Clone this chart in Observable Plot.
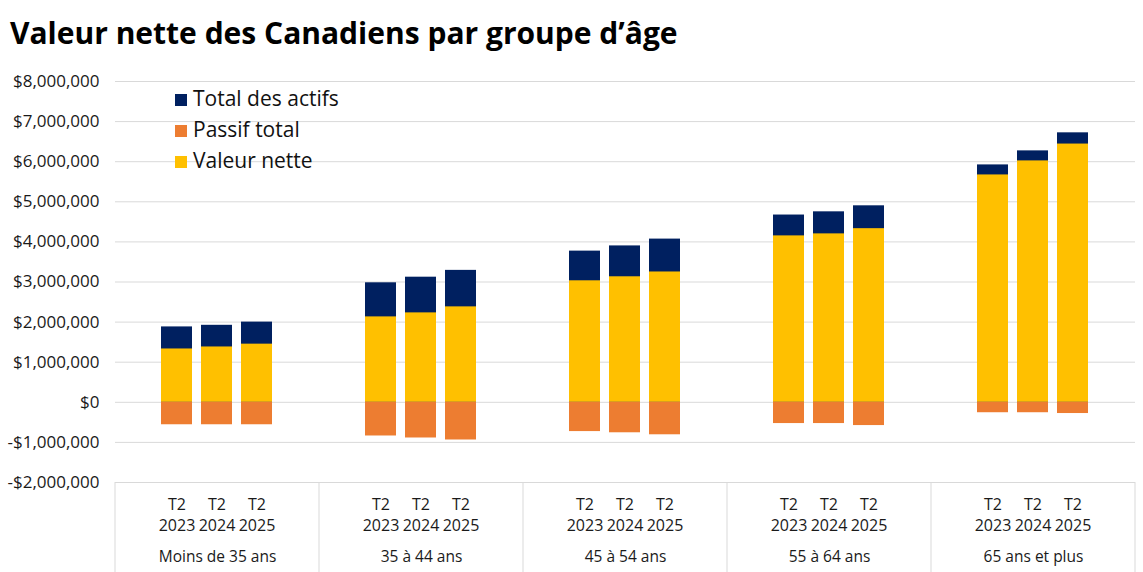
<!DOCTYPE html>
<html>
<head>
<meta charset="utf-8">
<script src="https://cdn.jsdelivr.net/npm/d3@7"></script>
<script src="https://cdn.jsdelivr.net/npm/@observablehq/plot@0.6"></script>
<style>
  html, body { margin: 0; padding: 0; background: #fff; }
  body { width: 1143px; height: 572px; position: relative; overflow: hidden; font-family: "Open Sans", Roboto, sans-serif; color: #1a1a1a; }
  #title { position: absolute; left: 10px; top: 16px; font-size: 30px; font-weight: 700; line-height: 34px; white-space: nowrap; color: #000; letter-spacing: 0px; }
  #chart { position: absolute; left: 0; top: 60px; }
  #legend { position: absolute; left: 175px; top: 83px; font-size: 21px; line-height: 31px; color: #111; }
  #legend .sw { display: inline-block; width: 12px; height: 12px; margin-right: 6px; vertical-align: baseline; }
</style>
</head>
<body>
<div id="title">Valeur nette des Canadiens par groupe d’âge</div>
<div id="chart"></div>
<div id="legend"></div>
<script>
const groups = ["Moins de 35 ans", "35 à 44 ans", "45 à 54 ans", "55 à 64 ans", "65 ans et plus"];
const periods = ["T2 2023", "T2 2024", "T2 2025"];
// values in millions of dollars, per group, per period
const totalAssets = [[1.88, 1.92, 2.00], [2.98, 3.12, 3.29], [3.77, 3.90, 4.07], [4.67, 4.75, 4.90], [5.92, 6.27, 6.72]];
const totalLiabilities = [[0.56, 0.56, 0.56], [0.84, 0.89, 0.94], [0.73, 0.76, 0.81], [0.53, 0.53, 0.58], [0.26, 0.26, 0.28]];
const netWorth = [[1.33, 1.38, 1.45], [2.13, 2.23, 2.38], [3.03, 3.13, 3.25], [4.15, 4.20, 4.33], [5.67, 6.02, 6.44]];
const seriesNames = ["Total des actifs", "Passif total", "Valeur nette"];
const seriesColors = ["#002060", "#ED7D31", "#FFC000"];
const yTicks = [-2e6, -1e6, 0, 1e6, 2e6, 3e6, 4e6, 5e6, 6e6, 7e6, 8e6];

const rows = [];
groups.forEach((g, i) => periods.forEach((p, j) => {
  rows.push({group: g, period: p, assets: totalAssets[i][j] * 1e6, liab: -totalLiabilities[i][j] * 1e6, net: netWorth[i][j] * 1e6});
}));

const fmt = v => (v < 0 ? "-" : "") + "$" + d3.format(",")(Math.abs(v));

const plot = Plot.plot({
  width: 1143,
  height: 512,
  marginLeft: 113,
  marginRight: 6,
  marginTop: 21,
  marginBottom: 90,
  style: {fontFamily: "'Open Sans', Roboto, sans-serif", fontSize: "16px", color: "#1a1a1a", background: "transparent"},
  fx: {domain: groups, padding: 0, label: null},
  x: {domain: periods, paddingInner: 0.22, paddingOuter: 1.11, label: null},
  y: {domain: [-2e6, 8e6], label: null},
  marks: [
    Plot.gridY(yTicks, {stroke: "#d9d9d9", strokeOpacity: 1}),
    Plot.axisY(yTicks, {tickFormat: fmt, tickSize: 0, tickPadding: 16, fontSize: 17, label: null}),
    Plot.barY(rows, {fx: "group", x: "period", y: "assets", fill: seriesColors[0]}),
    Plot.barY(rows, {fx: "group", x: "period", y: "net", fill: seriesColors[2]}),
    Plot.barY(rows, {fx: "group", x: "period", y: "liab", fill: seriesColors[1]}),
    Plot.axisX({tickSize: 0, tickPadding: 13, fontSize: 16, lineHeight: 1.3, tickFormat: d => d.replace(" ", "\n"), label: null}),
    Plot.axisFx({anchor: "bottom", tickSize: 0, tickPadding: 68, fontSize: 15.5, label: null})
  ]
});
document.getElementById("chart").appendChild(plot);

// category box separators, positioned from the plot's own scales
const fx = plot.scale("fx");
const y = plot.scale("y");
const svg = d3.select(plot);
const bounds = groups.map(g => fx.apply(g)).concat([fx.apply(groups[groups.length - 1]) + fx.bandwidth]);
svg.append("g").selectAll("line").data(bounds).join("line")
  .attr("x1", d => d).attr("x2", d => d)
  .attr("y1", y.apply(-2e6)).attr("y2", 512)
  .attr("stroke", "#d9d9d9");

// legend
const legend = d3.select("#legend");
[0, 1, 2].forEach(i => {
  const row = legend.append("div");
  row.append("span").attr("class", "sw").style("background", seriesColors[i]);
  row.append("span").text(seriesNames[i]);
});
</script>
</body>
</html>
